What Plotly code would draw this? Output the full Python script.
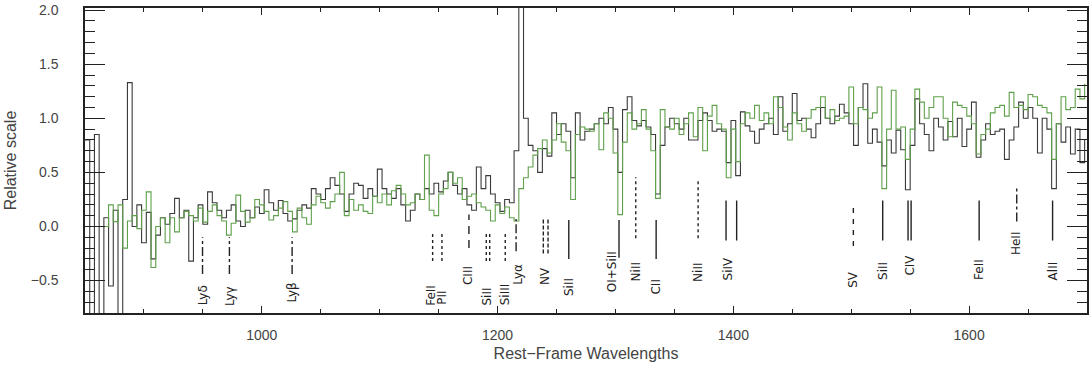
import plotly.graph_objects as go

# ---------------- data ----------------
wave_start = 850
wave_step = 4

black_flux = [
    0.80, -0.85, 0.85, -0.85, 0.08, -0.55, 0.15, -0.85, 0.25, 1.33,
    0.00, 0.20, -0.15, 0.13, -0.30, -0.08, 0.08, 0.02, 0.12, 0.26, 0.08,
    0.15, -0.32, 0.08, 0.20, 0.02, 0.32, 0.22, 0.15, 0.08, 0.15,
    0.20, 0.05, 0.00, 0.15, 0.08, 0.18, 0.12, 0.34, 0.22, 0.15,
    0.24, 0.12, 0.05, 0.07, 0.15,
    # 1034 - 1210
    0.20, 0.17, 0.35, 0.30, 0.25, 0.35, 0.45, 0.38, 0.30, 0.14,
    0.30, 0.40, 0.38, 0.26, 0.35, 0.28, 0.53, 0.35, 0.30, 0.26,
    0.35, 0.20, 0.05, 0.15, 0.30, 0.25, 0.35, 0.30, 0.40, 0.32,
    0.42, 0.50, 0.38, 0.30, 0.35, 0.20, 0.15, 0.55, 0.35, 0.47,
    0.30, 0.22, 0.14, 0.25, 0.22,
    # 1214 - 1362
    0.70, 2.40, 1.00, 0.75, 0.70, 0.50, 0.72, 0.65, 1.05, 0.85,
    0.95, 0.88, 0.45, 1.05, 0.80, 0.88, 0.90, 0.95, 1.00, 0.95,
    1.10, 0.90, 0.50, 1.08, 1.20, 0.98, 0.93, 0.98, 0.92, 0.85,
    0.30, 0.75, 0.92, 1.00, 0.95, 0.90, 1.00, 0.80,
    # 1366 - 1522
    0.80, 0.98, 1.05, 0.98, 0.88, 0.90, 0.88, 0.59, 0.98, 0.47,
    1.06, 0.93, 0.88, 0.77, 0.90, 0.95, 1.00, 0.85, 1.20, 0.88,
    0.95, 1.23, 0.98, 1.00, 0.90, 0.82, 0.95, 1.10, 1.00, 0.95,
    1.02, 1.13, 1.05, 0.95, 0.75, 1.10, 1.32, 0.77, 0.90, 0.78,
    # 1526 - 1698
    0.56, 0.80, 0.68, 0.89, 0.71, 0.34, 0.75, 1.18, 0.95, 0.85,
    0.70, 1.00, 0.92, 0.80, 0.97, 0.83, 1.00, 0.74, 0.90, 1.15,
    0.64, 0.80, 0.95, 0.85, 0.88, 0.90, 0.62, 0.80, 0.92, 1.15,
    1.00, 1.10, 1.00, 0.68, 1.00, 0.90, 0.35, 0.95, 0.78, 0.92,
    0.67, 0.90, 0.59, 0.80,
]

green_flux = [
    0.00, 0.00, 0.00, 0.00, 0.00, 0.20, 0.045, 0.20, -0.20, 0.05,
    0.10, -0.02, 0.15, 0.32, -0.38, 0.00, 0.08, -0.15, 0.08, -0.05, 0.08,
    0.14, 0.10, 0.05, 0.17, 0.04, 0.14, 0.20, 0.10, 0.05, -0.08,
    0.03, 0.29, 0.14, 0.04, 0.08, 0.25, 0.20, 0.14, 0.06, 0.10,
    0.17, 0.23, 0.14, -0.05, 0.17,
    # 1034 - 1210
    0.08, 0.02, 0.20, 0.28, 0.22, 0.17, 0.23, 0.30, 0.50, 0.10,
    0.25, 0.15, 0.20, 0.14, 0.12, 0.28, 0.22, 0.30, 0.20, 0.33,
    0.38, 0.30, 0.20, 0.22, 0.30, 0.25, 0.66, 0.15, 0.10, 0.30,
    0.35, 0.50, 0.40, 0.45, 0.25, 0.28, 0.30, 0.22, 0.18, 0.15,
    0.05, 0.20, 0.12, 0.18, 0.08,
    # 1214 - 1362
    0.05, 0.35, 0.45, 0.55, 0.66, 0.72, 0.80, 0.68, 0.80, 0.95,
    0.78, 0.70, 0.25, 0.85, 0.92, 0.90, 0.88, 0.95, 0.71, 1.05,
    1.00, 0.68, 0.11, 0.78, 1.05, 0.90, 0.95, 1.08, 0.90, 0.70,
    0.26, 1.08, 0.92, 0.90, 1.00, 0.85, 0.95, 1.05,
    # 1366 - 1522
    0.83, 1.10, 0.70, 1.02, 1.12, 0.95, 0.90, 0.45, 0.90, 0.60,
    0.95, 1.05, 1.00, 1.12, 0.98, 1.05, 0.95, 1.20, 1.10, 0.92,
    0.80, 1.05, 0.95, 0.88, 1.00, 1.08, 1.10, 1.20, 1.00, 1.08,
    0.98, 1.00, 1.02, 1.29, 0.95, 1.10, 1.08, 1.00, 1.05, 1.29,
    # 1526 - 1698
    0.35, 0.90, 1.26, 0.90, 0.92, 0.62, 0.90, 1.27, 1.15, 1.00,
    1.10, 1.20, 1.20, 1.00, 0.83, 1.15, 1.12, 1.10, 1.02, 0.95,
    0.67, 0.85, 0.90, 1.05, 1.10, 1.12, 1.02, 1.24, 1.10, 1.12,
    1.08, 1.22, 1.20, 1.12, 1.10, 1.05, 0.62, 0.95, 1.20, 1.08,
    1.10, 1.27, 1.18, 1.32,
]

black_wave = [wave_start + wave_step * i for i in range(len(black_flux))]
green_wave = [wave_start + wave_step * i for i in range(len(green_flux))]

# line identifications: label, wavelengths, dash, y-bottom, y-top, label x, label y
line_labels = ["Lyδ", "Lyγ", "Lyβ", "FeII", "PII", "CIII", "SiII", "SiIII", "Lyα", "NV",
               "SiII", "OI+SiII", "NiII", "CII", "NiII", "SiIV", "SV", "SiII", "CIV",
               "FeII", "HeII", "AlII"]
line_waves = [[949.7], [972.5], [1025.7], [1144.9], [1152.8], [1175.7], [1190.4, 1193.3],
              [1206.5], [1215.7], [1238.8, 1242.8], [1260.4], [1303.0], [1317.2], [1334.5],
              [1370.1], [1393.8, 1402.8], [1501.8], [1526.7], [1548.2, 1550.8], [1608.5],
              [1640.4], [1670.8]]
line_dash = ["dashdot", "dashdot", "dashdot", "dot", "dot", "8px,6px", "dot", "dot", "dashdot",
             "4px,2px", "solid", "solid", "dot", "solid", "dot", "solid", "5px,6px", "solid",
             "solid", "solid", "dashdot", "solid"]
line_y0 = [-0.44, -0.44, -0.44, -0.32, -0.32, -0.20, -0.32, -0.32, -0.23, -0.25,
           -0.30, -0.29, -0.11, -0.30, -0.11, -0.13, -0.18, -0.13, -0.13, -0.13, 0.045, -0.13]
line_y1 = [-0.10, -0.10, -0.10, -0.07, -0.07, 0.11, -0.06, -0.06, 0.07, 0.07,
           0.06, 0.06, 0.455, 0.06, 0.44, 0.24, 0.18, 0.24, 0.24, 0.24, 0.36, 0.24]
label_x = [949.7, 972.5, 1025.7, 1143.6, 1152.8, 1174.8, 1190.8, 1206.0, 1217.0, 1240.8,
           1260.6, 1297.3, 1317.0, 1334.8, 1370.0, 1395.3, 1501.8, 1527.0, 1550.0, 1608.5,
           1640.0, 1670.8]
label_y = [-0.64, -0.64, -0.61, -0.64, -0.66, -0.45, -0.65, -0.63, -0.44, -0.46,
           -0.56, -0.42, -0.42, -0.56, -0.42, -0.39, -0.49, -0.41, -0.36, -0.40, -0.16, -0.41]

# ---------------- figure ----------------
fig = go.Figure()

fig.add_trace(go.Scatter(x=black_wave, y=black_flux, mode="lines",
                         line=dict(shape="hv", color="#3a3a3a", width=1.1),
                         showlegend=False, hoverinfo="skip"))
fig.add_trace(go.Scatter(x=green_wave, y=green_flux, mode="lines",
                         line=dict(shape="hv", color="rgb(95,160,75)", width=1.1),
                         showlegend=False, hoverinfo="skip"))

for waves, dash, y0, y1 in zip(line_waves, line_dash, line_y0, line_y1):
    for w in waves:
        fig.add_trace(go.Scatter(x=[w, w], y=[y0, y1], mode="lines",
                                 line=dict(color="#222222", width=1.4, dash=dash),
                                 showlegend=False, hoverinfo="skip"))

for lab, lx, ly in zip(line_labels, label_x, label_y):
    fig.add_annotation(x=lx, y=ly, xref="x", yref="y", text=lab, showarrow=False,
                       textangle=-90, xanchor="center", yanchor="middle",
                       font=dict(family="DejaVu Sans", size=12, color="#222222"))

axis_font = dict(family="Liberation Sans", size=14, color="#444444")

fig.update_xaxes(range=[850, 1700], tickmode="linear", tick0=1000, dtick=200,
                 ticks="inside", ticklen=7, tickwidth=1.2, tickcolor="#222222",
                 minor=dict(ticks="inside", dtick=50, tick0=850, ticklen=4, tickcolor="#222222",
                            tickwidth=1.2),
                 mirror="allticks", showline=True, linecolor="#222222", linewidth=1.5,
                 showgrid=False, zeroline=False, tickfont=axis_font, ticklabelstandoff=8,
                 title=dict(text="Rest−Frame Wavelengths",
                            font=dict(family="Liberation Sans", size=16, color="#444444"),
                            standoff=6))
fig.update_yaxes(range=[-0.8, 2.02], tickmode="linear", tick0=0, dtick=0.5, tickformat=".1f",
                 ticks="inside", ticklen=20, tickwidth=1.2, tickcolor="#222222",
                 minor=dict(ticks="inside", dtick=0.1, ticklen=10, tickcolor="#222222",
                            tickwidth=1.2),
                 mirror="allticks", showline=True, linecolor="#222222", linewidth=1.5,
                 showgrid=False, zeroline=False, tickfont=axis_font, ticklabelstandoff=22,
                 ticklabeloverflow="allow",
                 title=dict(text="Relative scale",
                            font=dict(family="Liberation Sans", size=16, color="#444444"),
                            standoff=10))

fig.update_layout(width=1091, height=369, margin=dict(l=85, r=2, t=4, b=56),
                  paper_bgcolor="white", plot_bgcolor="white")

fig.write_html("out.html")
